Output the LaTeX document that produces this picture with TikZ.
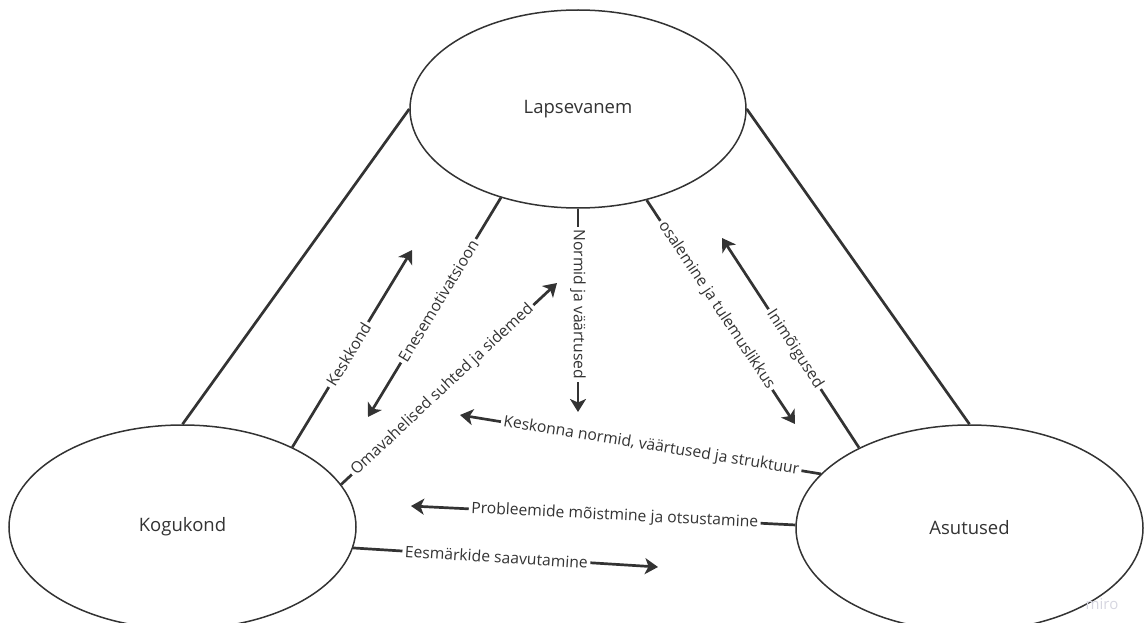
\documentclass[tikz,border=0pt]{standalone}
\usepackage{fontspec}
\setmainfont{Open Sans}
\usepackage{xcolor}
\usetikzlibrary{shapes,arrows.meta,positioning,calc}
\definecolor{ink}{HTML}{333333}
\definecolor{mark}{HTML}{D6D6E0}

\begin{document}
\begin{tikzpicture}[
    x=1pt, y=-1pt,
    ell/.style={ellipse, draw=ink, line width=1.5pt, fill=white, text=ink, inner sep=0pt, font=\fontsize{18.5}{22}\selectfont},
    link/.style={draw=ink, line width=2.7pt},
    arr/.style={-{Stealth[length=13pt, width=16pt, inset=3.5pt]}, draw=ink, line width=2.7pt},
    lbl/.style={fill=white, text=ink, inner sep=2.5pt, pos=0.47, font=\fontsize{15.7}{18}\selectfont}
]
    \useasboundingbox (0,0) rectangle (1145,623);

    \node [ell, minimum width=336pt, minimum height=198pt] (lap) at (578,109) {Lapsevanem};
    \node [ell, minimum width=347pt, minimum height=204pt] (kog) at (182.5,527) {Kogukond};
    \node [ell, minimum width=347pt, minimum height=206pt] (asu) at (969.5,528) {Asutused};
    \node [text=mark, font=\fontsize{15}{17}\selectfont] (wm) at (1102,604) {miro};

    \coordinate (e1) at (412,250);
    \coordinate (e2) at (368,417);
    \coordinate (e3) at (557,283);
    \coordinate (e4) at (578,412);
    \coordinate (e5) at (795,424);
    \coordinate (e6) at (722,238);
    \coordinate (e7) at (460,415);
    \coordinate (e8) at (411,506);
    \coordinate (e9) at (658,567);

    \draw [link] (lap.west) -- (kog.north);
    \draw [link] (lap.east) -- (asu.north);

    \draw [arr] (kog.36) -- node [lbl, sloped] (l1) {Keskkond} (e1);
    \draw [arr] (lap.229) -- node [lbl, sloped] (l2) {Enesemotivatsioon} (e2);
    \draw [arr] (kog.15) -- node [lbl, sloped] (l3) {Omavahelised suhted ja sidemed} (e3);
    \draw [arr] (lap.south) -- node [lbl, rotate=-90] (l4) {Normid ja väärtused} (e4);
    \draw [arr] (lap.307) -- node [lbl, sloped] (l5) {osalemine ja tulemuslikkus} (e5);
    \draw [arr] (asu.144) -- node [lbl, sloped] (l6) {Inimõigused} (e6);
    \draw [arr] (asu.160) -- node [lbl, sloped] (l7) {Keskonna normid, väärtused ja struktuur} (e7);
    \draw [arr] (asu.179) -- node [lbl, sloped] (l8) {Probleemide mõistmine ja otsustamine} (e8);
    \draw [arr] (kog.353) -- node [lbl, sloped] (l9) {Eesmärkide saavutamine} (e9);
\end{tikzpicture}
\end{document}
